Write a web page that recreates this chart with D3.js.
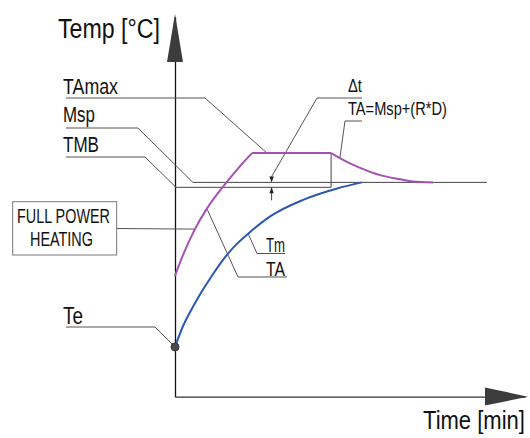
<!DOCTYPE html>
<html>
<head>
<meta charset="utf-8">
<script src="https://cdn.jsdelivr.net/npm/d3@7"></script>
<style>
  body { margin: 0; background: #fff; }
  text { font-family: "Liberation Sans Narrow", "Arial Narrow", "Liberation Sans", Arial, sans-serif; fill: #111; }
</style>
</head>
<body>
<div class="chart"></div>
<script>
// Tm (blue) curve: time [0-100], temp [0-100]
var tmTime = [0, 2.3, 5.1, 8.0, 10.9, 13.4, 17.1, 20.9, 27.1, 36.6, 46.3, 53.4];
var tmTemp = [13.1, 18.6, 23.6, 28.2, 32.3, 35.6, 39.7, 42.9, 47.4, 51.8, 54.8, 56.4];

// TA (purple) curve: rise, hold at TAmax, fall back to Msp
var taTime = [0, 2.3, 5.7, 9.1, 13.4, 18.6, 22.0, 44.6, 47.1, 50.0, 52.9, 58.6, 64.3, 68.0, 73.7];
var taTemp = [31.8, 37.3, 44.1, 49.5, 54.9, 60.7, 64.1, 64.1, 62.8, 61.4, 60.2, 58.3, 57.2, 56.6, 56.4];
var taBreaks = [6, 7]; // indices where the curve has corners

// reference levels
var tamax = 64.1;
var msp = 56.4;
var tmb = 55.1;
var te = 13.1;
var holdEnd = 44.6;
var mspStart = 5.1;
var mspEnd = 89.1;
var deltaAt = 27.6;

var width = 530;
var height = 438;

var svg = d3.select(".chart").append("svg")
  .attr("width", width)
  .attr("height", height);

var x = d3.scaleLinear().domain([0, 100]).range([175, 525]);
var y = d3.scaleLinear().domain([0, 100]).range([396.7, 16.7]);

// squeeze a text to a given width with a transform (narrow drawing font)
function narrowText(px, py, size, w, str) {
  var t = svg.append("text")
    .attr("font-size", size)
    .text(str);
  var natural = t.node().getComputedTextLength();
  t.attr("transform", "translate(" + px + "," + py + ") scale(" + (w / natural) + ",1)");
  return t;
}

// axes without ticks, arrows at the ends
svg.append("g")
  .attr("transform", "translate(175,0)")
  .call(d3.axisLeft(y).tickValues([]).tickSizeOuter(0))
  .select(".domain").attr("stroke", "#111").attr("stroke-width", 1.3);

svg.append("g")
  .attr("transform", "translate(0,396.7)")
  .call(d3.axisBottom(x).tickValues([]).tickSizeOuter(0))
  .select(".domain").attr("stroke", "#333").attr("stroke-width", 1.3);

svg.append("polygon")
  .attr("points", "167,62 183,62 175,14")
  .attr("fill", "#3c3c3c");
svg.append("polygon")
  .attr("points", "485,387.5 485,405.5 528,396.7")
  .attr("fill", "#3c3c3c");

// axis titles
narrowText(58, 37.5, 27, 102, "Temp [°C]");
narrowText(423, 429, 26, 102, "Time [min]");

// reference lines
var refs = svg.append("g").attr("stroke", "#444").attr("stroke-width", 1).attr("fill", "none");
refs.append("line")
  .attr("x1", x(mspStart)).attr("x2", x(mspEnd))
  .attr("y1", y(msp)).attr("y2", y(msp));
refs.append("line")
  .attr("x1", x(0)).attr("x2", x(holdEnd))
  .attr("y1", y(tmb)).attr("y2", y(tmb));
refs.append("line")
  .attr("x1", x(holdEnd)).attr("x2", x(holdEnd))
  .attr("y1", y(tamax)).attr("y2", y(tmb));

// leader lines and labels
var annotations = [
  { text: "TAmax", x: 63, y: 94, w: 55, size: 22, path: [[66, 98], [205, 98]], target: [26.3, tamax] },
  { text: "Msp", x: 63, y: 122, w: 32, size: 22, path: [[66, 128], [138, 128]], target: [mspStart, msp] },
  { text: "TMB", x: 63, y: 152, w: 36, size: 22, path: [[66, 157], [145, 157]], target: [0.3, tmb] },
  { text: "Te", x: 63, y: 324, w: 20, size: 23, path: [[66, 327], [155, 327]], target: [0, te] },
  { text: "Tm", x: 266, y: 251.5, w: 19, size: 21, path: [[285, 253.5], [257, 253.5]], target: [20.9, 42.9] },
  { text: "TA", x: 266, y: 276, w: 19, size: 21, path: [[287, 277], [238, 277]], target: [9.2, 49.3] },
  { text: "Δt", x: 348, y: 92, w: 14, size: 19, path: [[362, 98], [317, 98]], target: [deltaAt, 57.9] },
  { text: "TA=Msp+(R*D)", x: 348, y: 115, w: 99, size: 18, path: [[362, 121], [345, 121]], target: [47.1, 62.8] },
  { text: "", x: 0, y: 0, w: 0, size: 0, path: [[117, 228.5]], target: [5.7, 44.1] }
];

var leader = d3.line();
annotations.forEach(function(a) {
  var pts = a.path.concat([[x(a.target[0]), y(a.target[1])]]);
  svg.append("path")
    .attr("d", leader(pts))
    .attr("fill", "none")
    .attr("stroke", "#555")
    .attr("stroke-width", 1);
  if (a.text) {
    narrowText(a.x, a.y, a.size, a.w, a.text);
  }
});

// FULL POWER HEATING box
svg.append("rect")
  .attr("x", 12.7).attr("y", 201.7)
  .attr("width", 104).attr("height", 53.3)
  .attr("fill", "#fff").attr("stroke", "#777").attr("stroke-width", 1);
narrowText(17, 222.7, 20, 93, "FULL POWER");
narrowText(30, 246, 20, 63, "HEATING");

// delta t marker: two small arrows between Msp and TMB
var dx = x(deltaAt);
svg.append("line")
  .attr("x1", dx).attr("x2", dx)
  .attr("y1", y(tmb)).attr("y2", y(tmb) + 13)
  .attr("stroke", "#444").attr("stroke-width", 1);
svg.append("polygon")
  .attr("points", [[dx - 2.2, y(msp) - 6], [dx + 2.2, y(msp) - 6], [dx, y(msp)]].join(" "))
  .attr("fill", "#222");
svg.append("polygon")
  .attr("points", [[dx - 2.2, y(tmb) + 6], [dx + 2.2, y(tmb) + 6], [dx, y(tmb)]].join(" "))
  .attr("fill", "#222");

// curves
var curve = d3.line()
  .x(function(d) { return x(d[0]); })
  .y(function(d) { return y(d[1]); })
  .curve(d3.curveMonotoneX);

var taPts = d3.zip(taTime, taTemp);
var segments = [
  taPts.slice(0, taBreaks[0] + 1),
  taPts.slice(taBreaks[0], taBreaks[1] + 1),
  taPts.slice(taBreaks[1])
];
segments.forEach(function(seg) {
  svg.append("path")
    .attr("d", curve(seg))
    .attr("fill", "none")
    .attr("stroke", "#a551b3")
    .attr("stroke-width", 2);
});

svg.append("path")
  .attr("d", curve(d3.zip(tmTime, tmTemp)))
  .attr("fill", "none")
  .attr("stroke", "#2b57b5")
  .attr("stroke-width", 2);

// Te point
svg.append("circle")
  .attr("cx", x(0)).attr("cy", y(te))
  .attr("r", 4)
  .attr("fill", "#4a4a4a")
  .attr("stroke", "#333");
</script>
</body>
</html>
